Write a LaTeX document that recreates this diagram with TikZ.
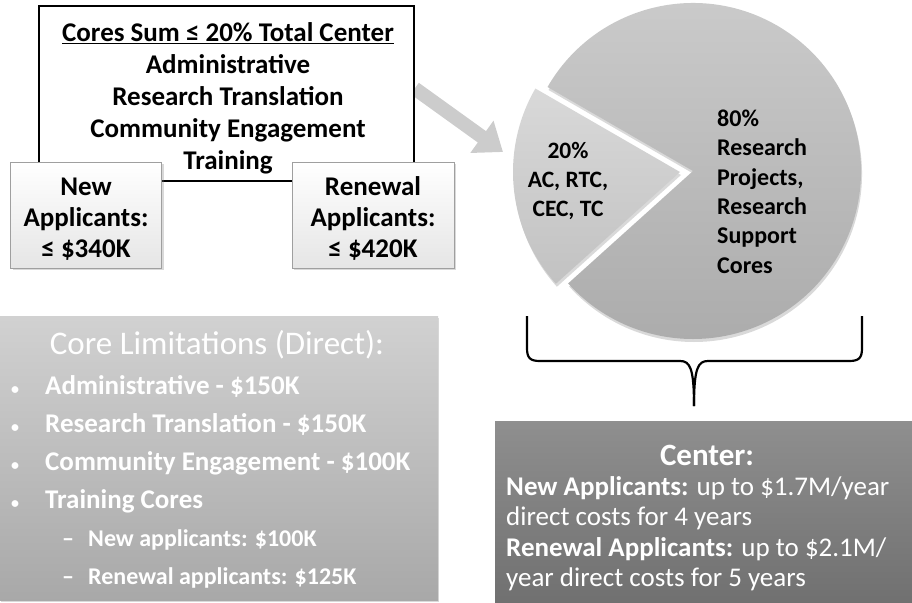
\documentclass[tikz,border=0pt]{standalone}
\usepackage{fontspec}
\setmainfont{Carlito}
\usetikzlibrary{arrows.meta,positioning,shadows}
\pgfdeclarelayer{back}
\pgfsetlayers{back,main}

\begin{document}
\begin{tikzpicture}[
  x=1pt, y=-1pt, inner sep=0pt,
  topbox/.style={draw, line width=1.5pt, fill=white, minimum width=375pt, minimum height=175pt},
  applbox/.style={draw=gray!75, top color=white, bottom color=gray!20, drop shadow={opacity=0.3, shadow xshift=2pt, shadow yshift=-2pt}, minimum height=106pt, align=center, font=\bfseries\fontsize{27}{31}\selectfont},
  greybox/.style={drop shadow={opacity=0.3, shadow xshift=1pt, shadow yshift=-2pt}},
  slice/.style={drop shadow={opacity=0.3, shadow xshift=1pt, shadow yshift=-3pt}},
  bigarrow/.style={line width=14pt, draw=gray!40, -{Triangle[length=26pt, width=38pt]}},
  brace/.style={line width=2.2pt, line join=round},
  boldtxt/.style={font=\bfseries\fontsize{27}{32}\selectfont, align=center},
  whitetxt/.style={text=white}
]
\useasboundingbox (0,0) rectangle (912,602);

% top box and the two applicant boxes
\node[topbox] (cores) at (226.5,93.5) {};
\node[boldtxt] (corestxt) at (228,98.5) {\underline{Cores Sum ≤ 20\% Total Center}\\Administrative\\Research Translation\\Community Engagement\\Training};
\node[applbox, minimum width=151pt] (new) at (86,215) {\rule{0pt}{26pt}New\\Applicants:\\≤ \$340K};
\node[applbox, minimum width=162pt] (renew) at (373,215) {\rule{0pt}{26pt}Renewal\\Applicants:\\≤ \$420K};

% pie
\coordinate (piecentre) at (693,171);
\coordinate (smallcentre) at (680,172);
\shade[slice, top color=gray!40, bottom color=gray!65] (piecentre) -- ++(-150:168) arc[start angle=-150, end angle=138, radius=168] -- cycle;
\shade[slice, top color=gray!30, bottom color=gray!48] (smallcentre) -- ++(138:167) arc[start angle=138, end angle=210, radius=167] -- cycle;
\node[font=\bfseries\fontsize{24}{29.4}\selectfont, align=left, anchor=west] (big) at (717,191.5) {80\%\\Research\\Projects,\\Research\\Support\\Cores};
\node[font=\bfseries\fontsize{23.5}{29.4}\selectfont, align=center] (small) at (568,181) {20\%\\AC, RTC,\\CEC, TC};

% arrow into the pie
\coordinate (pietip) at (503,152);
\begin{pgfonlayer}{back}
\draw[bigarrow] ([yshift=5pt]cores.east) -- (pietip);
\end{pgfonlayer}

% brace under the pie
\draw[brace] (527,316) -- (527,348) .. controls (527,358) and (530,361) .. (540,361) -- (680,361) .. controls (690,361) and (694,368) .. (694,406);
\draw[brace] (862,316) -- (862,348) .. controls (862,358) and (859,361) .. (849,361) -- (708,361) .. controls (698,361) and (694,368) .. (694,406);

% core limitations
\node[greybox, top color=gray!36, bottom color=gray!68, minimum width=438pt, minimum height=284pt] (corebox) at (219,458) {};
\node[whitetxt, font=\fontsize{33}{36}\selectfont] (corehead) at (217,345) {Core Limitations (Direct):};
\node[whitetxt, font=\bfseries\fontsize{27}{38}\selectfont, align=left, anchor=north west] (coreitems) at (11,375) {%
\makebox[34pt][l]{\fontsize{16}{16}\selectfont•}Administrative - \$150K\\
\makebox[34pt][l]{\fontsize{16}{16}\selectfont•}Research Translation - \$150K\\
\makebox[34pt][l]{\fontsize{16}{16}\selectfont•}Community Engagement - \$100K\\
\makebox[34pt][l]{\fontsize{16}{16}\selectfont•}Training Cores\\
{\fontsize{24}{38}\selectfont\hspace*{51pt}\makebox[26pt][l]{–}New applicants: \$100K}\\
{\fontsize{24}{38}\selectfont\hspace*{51pt}\makebox[26pt][l]{–}Renewal applicants: \$125K}};

% center box
\node[greybox, top color=black!44, bottom color=black!56, minimum width=417pt, minimum height=182pt] (centerbox) at (703.5,512) {};
\node[whitetxt, font=\bfseries\fontsize{31}{34}\selectfont] (centerhead) at (707,455) {Center:};
\node[whitetxt, font=\fontsize{27}{30.5}\selectfont, align=left, anchor=north west] (centertxt) at (506,476) {%
\textbf{New Applicants:} up to \$1.7M/year\\
direct costs for 4 years\\
\textbf{Renewal Applicants:} up to \$2.1M/\\
year direct costs for 5 years};
\end{tikzpicture}
\end{document}
